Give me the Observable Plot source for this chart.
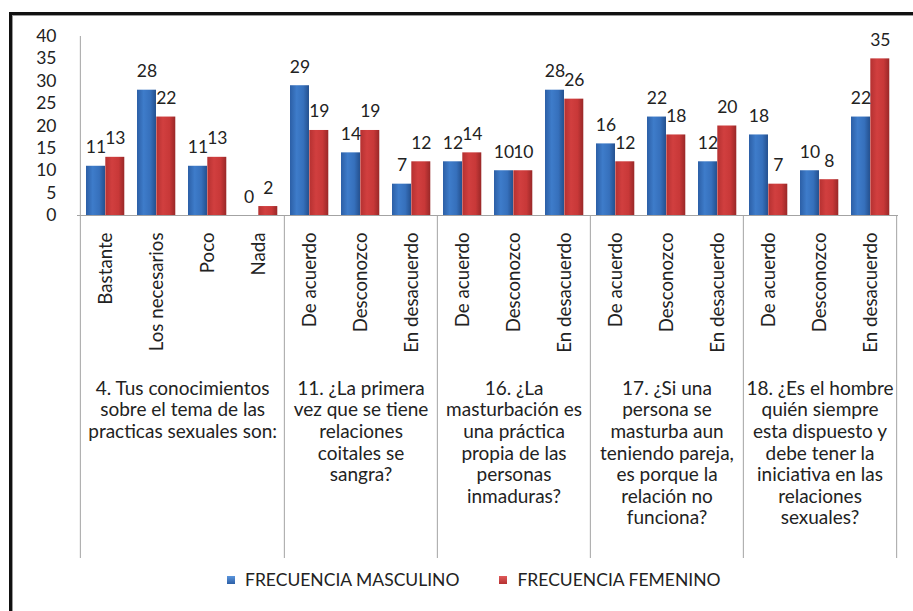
<!DOCTYPE html>
<html>
<head>
<meta charset="utf-8">
<script src="https://cdn.jsdelivr.net/npm/d3@7"></script>
<script src="https://cdn.jsdelivr.net/npm/@observablehq/plot@0.6"></script>
<style>
  html, body { margin: 0; padding: 0; background: #fff; }
  body { width: 913px; height: 611px; position: relative; overflow: hidden; font-family: Lato, "Open Sans", sans-serif; }
  #frame { position: absolute; left: 9px; top: 12px; width: 910px; height: 610px;
           border-left: 3px solid #111; border-top: 3px solid #111; box-shadow: inset 1px 1px 0 #9a9a9a; pointer-events: none; }
  #chart { position: absolute; left: 0; top: 0; }
  #legend { position: absolute; left: 227px; top: 569px; font-size: 17.5px; color: #222; display: flex; align-items: center; white-space: nowrap; }
  #legend .sw { display: inline-block; width: 8px; height: 8px; margin-right: 10px; }
  #legend .item { display: flex; align-items: center; margin-right: 40px; }
</style>
</head>
<body>
<svg width="0" height="0" style="position:absolute">
  <defs>
    <linearGradient id="gBlue" x1="0" x2="1" y1="0" y2="0">
      <stop offset="0" stop-color="#2c5fa6"/>
      <stop offset="0.35" stop-color="#3e7cca"/>
      <stop offset="0.7" stop-color="#3670bc"/>
      <stop offset="1" stop-color="#24508e"/>
    </linearGradient>
    <linearGradient id="gRed" x1="0" x2="1" y1="0" y2="0">
      <stop offset="0" stop-color="#b53131"/>
      <stop offset="0.35" stop-color="#d13f3f"/>
      <stop offset="0.7" stop-color="#c83838"/>
      <stop offset="1" stop-color="#992828"/>
    </linearGradient>
  </defs>
</svg>
<div id="chart"></div>
<div id="frame"></div>
<div id="legend">
  <span class="item"><span class="sw" style="background:linear-gradient(#5b95dc,#2c5fa6)"></span>FRECUENCIA MASCULINO</span>
  <span class="item"><span class="sw" style="background:linear-gradient(#e05a5a,#b53131)"></span>FRECUENCIA FEMENINO</span>
</div>
<script>
// ---- data ----
const groupLabels = [
  "4. Tus conocimientos\nsobre el tema de las\npracticas sexuales son:",
  "11. ¿La primera\nvez que se tiene\nrelaciones\ncoitales se\nsangra?",
  "16. ¿La\nmasturbación es\nuna práctica\npropia de las\npersonas\ninmaduras?",
  "17. ¿Si una\npersona se\nmasturba aun\nteniendo pareja,\nes porque la\nrelación no\nfunciona?",
  "18. ¿Es el hombre\nquién siempre\nesta dispuesto y\ndebe tener la\niniciativa en las\nrelaciones\nsexuales?"
];
const groupCategories = [
  ["Bastante", "Los necesarios", "Poco", "Nada"],
  ["De acuerdo", "Desconozco", "En desacuerdo"],
  ["De acuerdo", "Desconozco", "En desacuerdo"],
  ["De acuerdo", "Desconozco", "En desacuerdo"],
  ["De acuerdo", "Desconozco", "En desacuerdo"]
];
const masculino = [11, 28, 11, 0, 29, 14, 7, 12, 10, 28, 16, 22, 12, 18, 10, 22];
const femenino  = [13, 22, 13, 2, 19, 19, 12, 14, 10, 26, 12, 18, 20, 7, 8, 35];
const yTicks = [0, 5, 10, 15, 20, 25, 30, 35, 40];

// ---- build table ----
const rows = [];
groupCategories.forEach((cats, gi) => cats.forEach((c, ci) => rows.push({key: gi + "|" + c, group: gi, cat: c, ci})));
rows.forEach((r, i) => { r.m = masculino[i]; r.f = femenino[i]; });
const keys = rows.map(r => r.key);

// group boundary and label anchors
const leftEdges = groupCategories.map((cats, gi) => gi + "|" + cats[0]);
const lastKey = keys[keys.length - 1];
const oddGroups = [], evenGroups = [];
groupCategories.forEach((cats, gi) => {
  const n = cats.length;
  if (n % 2) oddGroups.push({key: gi + "|" + cats[(n - 1) / 2], label: groupLabels[gi]});
  else evenGroups.push({key: gi + "|" + cats[n / 2 - 1], label: groupLabels[gi]});
});

// ---- layout ----
const W = 913, H = 565;
const mL = 77, mR = 15, mT = 36, mB = 7;
const y0px = 215;
const bw = (W - mL - mR) / keys.length;
const barW = 19.3, gapL = 6;
const font = "Lato, 'Open Sans', sans-serif";
const gridColor = "#a3a3a3";
const grpFont = 19, grpLH = 21.6 / 19;

const chart = Plot.plot({
  width: W, height: H,
  marginLeft: mL, marginRight: mR, marginTop: mT, marginBottom: mB,
  style: {fontFamily: font, background: "#fff", color: "#222"},
  x: {domain: keys, padding: 0, axis: null},
  y: {domain: [0, 40], range: [y0px, mT], axis: null},
  marks: [
    Plot.axisY({ticks: yTicks, tickSize: 0, tickPadding: 21, fontSize: 17.5, stroke: "none", fill: "#222"}),
    // bars
    Plot.barY(rows, {x: "key", y: "m", fill: "url(#gBlue)", insetLeft: gapL, insetRight: bw - gapL - barW}),
    Plot.barY(rows, {x: "key", y: "f", fill: "url(#gRed)", insetLeft: gapL + barW, insetRight: bw - gapL - 2 * barW}),
    // value labels
    Plot.text(rows, {x: "key", y: "m", text: d => String(d.m), dx: gapL + barW / 2 - bw / 2, dy: -13, lineAnchor: "bottom", fontSize: 17.5, fill: "#222"}),
    Plot.text(rows, {x: "key", y: "f", text: d => String(d.f), dx: gapL + 1.5 * barW - bw / 2, dy: -13, lineAnchor: "bottom", fontSize: 17.5, fill: "#222"}),
    // axes lines
    Plot.ruleX([keys[0]], {dx: -bw / 2, stroke: gridColor}),
    Plot.ruleX(leftEdges.slice(1), {dx: -bw / 2, stroke: gridColor, insetTop: y0px - mT}),
    Plot.ruleX([lastKey], {dx: bw / 2, stroke: gridColor, insetTop: y0px - mT}),
    Plot.ruleY([0], {stroke: gridColor}),
    // category labels
    Plot.text(rows, {x: "key", y: () => 0, text: "cat", rotate: -90, textAnchor: "end", lineAnchor: "middle", dy: 17, fontSize: 18.7, fill: "#222"}),
    // group labels
    Plot.text(oddGroups, {x: "key", y: () => 0, text: "label", lineAnchor: "top", lineHeight: grpLH, dy: 164, fontSize: grpFont, fill: "#222"}),
    Plot.text(evenGroups, {x: "key", y: () => 0, text: "label", lineAnchor: "top", lineHeight: grpLH, dy: 164, dx: bw / 2, fontSize: grpFont, fill: "#222"})
  ]
});
document.getElementById("chart").appendChild(chart);
</script>
</body>
</html>
